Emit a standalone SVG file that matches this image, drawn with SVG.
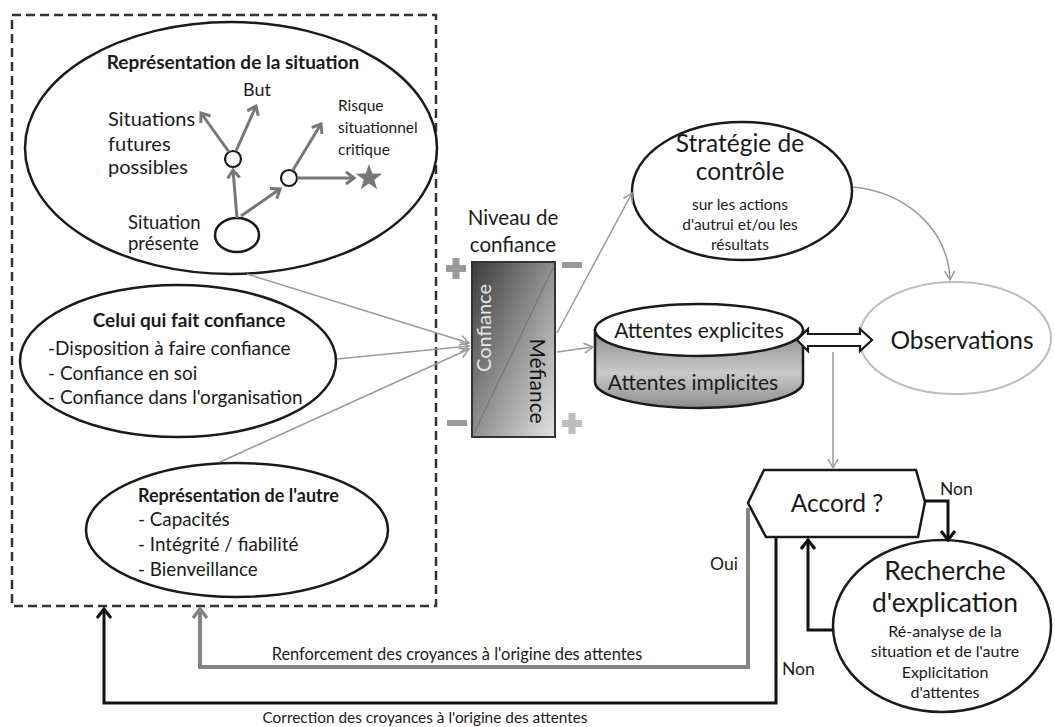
<svg xmlns="http://www.w3.org/2000/svg" width="1055" height="727" viewBox="0 0 1055 727">
<style>
text{font-family:Lato,"Liberation Sans",sans-serif;fill:#1a1a1a}
.b{font-weight:bold}
.ell{fill:#fff;stroke:#1a1a1a;stroke-width:2.5}
.thin{fill:none;stroke:#9a9a9a;stroke-width:1.5}
.sit{fill:none;stroke:#777;stroke-width:3}
.blk{fill:none;stroke:#111;stroke-width:3}
.gry{fill:none;stroke:#858585;stroke-width:4}
.sign{fill:#9a9a9a}
</style>
<defs>
<marker id="mSit" markerUnits="userSpaceOnUse" markerWidth="16" markerHeight="16" refX="11" refY="8" orient="auto"><path d="M3,2 L11,8 L3,14" fill="none" stroke="#777" stroke-width="3"/></marker>
<marker id="mThin" markerUnits="userSpaceOnUse" markerWidth="14" markerHeight="14" refX="11" refY="7" orient="auto"><path d="M2,2 L11,7 L2,12" fill="none" stroke="#9a9a9a" stroke-width="1.5"/></marker>
<marker id="mBlk" markerUnits="userSpaceOnUse" markerWidth="18" markerHeight="18" refX="12" refY="9" orient="auto"><path d="M3,2 L12,9 L3,16" fill="none" stroke="#111" stroke-width="3"/></marker>
<marker id="mGry" markerUnits="userSpaceOnUse" markerWidth="18" markerHeight="18" refX="12" refY="9" orient="auto"><path d="M3,2 L12,9 L3,16" fill="none" stroke="#858585" stroke-width="3.5"/></marker>
<linearGradient id="gBox" x1="0" y1="0" x2="1" y2="1"><stop offset="0" stop-color="#3c3c3c"/><stop offset="1" stop-color="#e2e2e2"/></linearGradient>
<linearGradient id="gCyl" x1="0" y1="0" x2="0" y2="1"><stop offset="0" stop-color="#8c8c8c"/><stop offset="0.55" stop-color="#c9c9c9"/><stop offset="1" stop-color="#8c8c8c"/></linearGradient>
</defs>

<g id="frame"><rect x="12" y="15" width="424" height="591" fill="none" stroke="#333" stroke-width="2.5" stroke-dasharray="9,5"/></g>

<g id="representation-situation">
<ellipse class="ell" cx="231" cy="148" rx="206" ry="126"/>
<text class="b" x="233" y="69" font-size="19" text-anchor="middle">Représentation de la situation</text>
<text x="257" y="96" font-size="18" text-anchor="middle">But</text>
<text x="108" y="126" font-size="20">Situations</text>
<text x="108" y="151" font-size="20">futures</text>
<text x="108" y="174" font-size="20">possibles</text>
<text x="338" y="111" font-size="15.5">Risque</text>
<text x="338" y="133" font-size="15.5">situationnel</text>
<text x="338" y="155" font-size="15.5">critique</text>
<text x="128" y="229" font-size="18.5">Situation</text>
<text x="128" y="250" font-size="18.5">présente</text>
<ellipse cx="237" cy="235" rx="22" ry="17" fill="#fff" stroke="#1a1a1a" stroke-width="2.5"/>
<circle cx="233" cy="159" r="8" fill="#fff" stroke="#1a1a1a" stroke-width="2.2"/>
<circle cx="289" cy="178" r="8" fill="#fff" stroke="#1a1a1a" stroke-width="2.2"/>
<polygon points="369,164 372.3,173.5 382.3,173.7 374.3,179.7 377.2,189.3 369,183.6 360.8,189.3 363.7,179.7 355.7,173.7 365.7,173.5" fill="#777"/>
<path class="sit" d="M237,218 L233,170" marker-end="url(#mSit)"/>
<path class="sit" d="M241,216 L280,189" marker-end="url(#mSit)"/>
<path class="sit" d="M229,152 L201,113" marker-end="url(#mSit)"/>
<path class="sit" d="M236,151 L256,106" marker-end="url(#mSit)"/>
<path class="sit" d="M293,170 L321,124" marker-end="url(#mSit)"/>
<path class="sit" d="M297,178 L354,178" marker-end="url(#mSit)"/>
</g>

<g id="celui-qui-fait-confiance">
<ellipse class="ell" cx="178" cy="361" rx="158" ry="76"/>
<text class="b" x="189" y="327" font-size="19" text-anchor="middle">Celui qui fait confiance</text>
<text x="48" y="355" font-size="19">-Disposition à faire confiance</text>
<text x="48" y="380" font-size="19">- Confiance en soi</text>
<text x="48" y="404" font-size="19">- Confiance dans l'organisation</text>
</g>

<g id="representation-autre">
<ellipse class="ell" cx="237" cy="530" rx="151" ry="67"/>
<text class="b" x="138" y="502" font-size="18">Représentation de l'autre</text>
<text x="138" y="526" font-size="18.8">- Capacités</text>
<text x="138" y="551" font-size="18.8">- Intégrité / fiabilité</text>
<text x="138" y="576" font-size="18.8">- Bienveillance</text>
</g>

<g id="niveau-confiance">
<text x="513" y="225" font-size="20.5" text-anchor="middle">Niveau de</text>
<text x="513" y="252" font-size="20.5" text-anchor="middle">confiance</text>
<rect x="472" y="262" width="83" height="175" fill="url(#gBox)" stroke="#333" stroke-width="2"/>
<line x1="474" y1="433" x2="553" y2="268" stroke="#777" stroke-width="1.2"/>
<text transform="translate(491,328) rotate(-90)" font-size="20" text-anchor="middle" style="fill:#e6e6e6">Confiance</text>
<text transform="translate(530,381) rotate(90)" font-size="21" text-anchor="middle" style="fill:#111">Méfiance</text>
<rect class="sign" x="446" y="265" width="20" height="7"/>
<rect class="sign" x="452.5" y="258" width="7" height="21"/>
<rect class="sign" x="562" y="262" width="20" height="6"/>
<rect class="sign" x="447" y="420" width="20" height="6"/>
<rect x="562" y="420" width="20" height="7" fill="#bdbdbd"/>
<rect x="568.5" y="413" width="7" height="21" fill="#bdbdbd"/>
</g>

<g id="strategie-controle">
<ellipse class="ell" cx="742" cy="191" rx="110" ry="69"/>
<text x="740" y="152" font-size="24.5" text-anchor="middle">Stratégie de</text>
<text x="740" y="180" font-size="24.5" text-anchor="middle">contrôle</text>
<text x="740" y="210" font-size="15.5" text-anchor="middle">sur les actions</text>
<text x="740" y="230" font-size="15.5" text-anchor="middle">d'autrui et/ou les</text>
<text x="740" y="250" font-size="15.5" text-anchor="middle">résultats</text>
</g>

<g id="attentes">
<path d="M595,330 L595,382 A104,26 0 0 0 803,382 L803,330 Z" fill="url(#gCyl)" stroke="#1a1a1a" stroke-width="2.5"/>
<ellipse cx="699" cy="330" rx="104" ry="26" fill="#fff" stroke="#1a1a1a" stroke-width="2.5"/>
<text x="699" y="338" font-size="21" text-anchor="middle">Attentes explicites</text>
<text x="693" y="390" font-size="21" text-anchor="middle">Attentes implicites</text>
</g>

<g id="observations">
<ellipse cx="955" cy="338" rx="96" ry="56" fill="#fff" stroke="#bdbdbd" stroke-width="2"/>
<text x="962" y="349" font-size="24.5" text-anchor="middle">Observations</text>
</g>

<g id="accord">
<polygon points="748,503 764,470 916,470 925,502 918,537 766,537" fill="#fff" stroke="#1a1a1a" stroke-width="2.5"/>
<text x="837" y="512" font-size="24.5" text-anchor="middle">Accord ?</text>
</g>

<g id="recherche-explication">
<ellipse class="ell" cx="942" cy="626" rx="109" ry="86"/>
<text x="945" y="580" font-size="26.5" text-anchor="middle">Recherche</text>
<text x="945" y="612" font-size="26.5" text-anchor="middle">d'explication</text>
<text x="945" y="637" font-size="16" text-anchor="middle">Ré-analyse de la</text>
<text x="945" y="657" font-size="16" text-anchor="middle">situation et de l'autre</text>
<text x="945" y="678" font-size="16" text-anchor="middle">Explicitation</text>
<text x="945" y="698" font-size="16" text-anchor="middle">d'attentes</text>
</g>

<g id="connectors">
<path class="thin" d="M247,274 L469,343" marker-end="url(#mThin)"/>
<path class="thin" d="M337,359 L469,346" marker-end="url(#mThin)"/>
<path class="thin" d="M220,462 L469,349" marker-end="url(#mThin)"/>
<path class="thin" d="M557,333 L632,193" marker-end="url(#mThin)"/>
<path class="thin" d="M557,352 L593,347" marker-end="url(#mThin)"/>
<path class="thin" d="M853,187 C905,192 948,228 950,280" marker-end="url(#mThin)"/>
<path class="thin" d="M833,352 L833,468" marker-end="url(#mThin)"/>
<path d="M797,340 L808,329 L808,334 L860,334 L860,329 L872,340 L860,351 L860,346 L808,346 L808,351 Z" fill="#fff" stroke="#1a1a1a" stroke-width="2.2" stroke-linejoin="miter"/>
<path class="blk" d="M925,501 L948,501 L948,540" marker-end="url(#mBlk)"/>
<path class="blk" d="M833,630 L808,630 L808,540" marker-end="url(#mBlk)"/>
<path class="gry" d="M748,508 L748,667 L200,667 L200,609" marker-end="url(#mGry)"/>
<path d="M776,537 L776,703 L104,703 L104,609" fill="none" stroke="#111" stroke-width="3" marker-end="url(#mBlk)"/>
<text x="940" y="495" font-size="17.5">Non</text>
<text x="710" y="570" font-size="17.5">Oui</text>
<text x="782" y="675" font-size="17.5">Non</text>
<text x="457" y="660" font-size="16.4" text-anchor="middle">Renforcement des croyances à l'origine des attentes</text>
<text x="425" y="723" font-size="15.4" text-anchor="middle">Correction des croyances à l'origine des attentes</text>
</g>
</svg>
